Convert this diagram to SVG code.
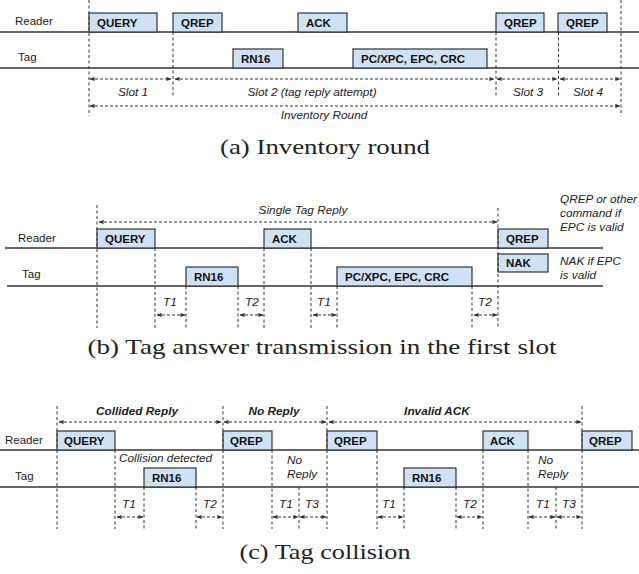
<svg xmlns="http://www.w3.org/2000/svg" width="639" height="574" viewBox="0 0 639 574">
  <defs>
    <marker id="ah" viewBox="0 0 6 6" refX="5.5" refY="3" markerWidth="5" markerHeight="5" orient="auto-start-reverse" markerUnits="userSpaceOnUse">
      <path d="M0,0.5 L6,3 L0,5.5 z" fill="#333"/>
    </marker>
    <style>
      .lane { stroke: #333; stroke-width: 1.3; fill: none; }
      .box { fill: #cfe2f3; stroke: #333; stroke-width: 1.2; }
      .btxt { font-family: "Liberation Sans", Arial, sans-serif; font-size: 11.5px; font-weight: bold; fill: #111; }
      .lbl { font-family: "Liberation Sans", Arial, sans-serif; font-size: 11.5px; fill: #222; }
      .it { font-family: "Liberation Sans", Arial, sans-serif; font-size: 11.8px; font-style: italic; fill: #222; }
      .bit { font-family: "Liberation Sans", Arial, sans-serif; font-size: 11.8px; font-style: italic; font-weight: bold; fill: #222; }
      .vd { stroke: #333; stroke-width: 1; stroke-dasharray: 3 2.5; fill: none; }
      .ar { stroke: #333; stroke-width: 1; stroke-dasharray: 3 2; fill: none; marker-start: url(#ah); marker-end: url(#ah); }
      .cap { font-family: "Liberation Serif", "DejaVu Serif", serif; font-size: 22px; fill: #222; }
    </style>
  </defs>
  <rect width="639" height="574" fill="#fff"/>

  <!-- ===== (a) Inventory round ===== -->
  <g id="panel-a">
    <g id="a-lanes">
      <text class="lbl" x="15" y="25">Reader</text>
      <line class="lane" x1="0" y1="32" x2="639" y2="32"/>
      <text class="lbl" x="18" y="61">Tag</text>
      <line class="lane" x1="0" y1="68" x2="639" y2="68"/>
    </g>
    <g id="a-query"><rect class="box" x="89" y="13" width="68" height="19"/><text class="btxt" x="97" y="27">QUERY</text></g>
    <g id="a-qrep1"><rect class="box" x="173" y="13" width="49" height="19"/><text class="btxt" x="181" y="27">QREP</text></g>
    <g id="a-ack"><rect class="box" x="298" y="13" width="49" height="19"/><text class="btxt" x="306" y="27">ACK</text></g>
    <g id="a-qrep2"><rect class="box" x="496" y="13" width="48" height="19"/><text class="btxt" x="504" y="27">QREP</text></g>
    <g id="a-qrep3"><rect class="box" x="558" y="13" width="49" height="19"/><text class="btxt" x="566" y="27">QREP</text></g>
    <g id="a-rn16"><rect class="box" x="233" y="49" width="50" height="19"/><text class="btxt" x="241" y="63">RN16</text></g>
    <g id="a-epc"><rect class="box" x="353" y="49" width="134" height="19"/><text class="btxt" x="361" y="63">PC/XPC, EPC, CRC</text></g>
    <g id="a-connectors">
      <line class="vd" x1="89" y1="0" x2="89" y2="116"/>
      <line class="vd" x1="173" y1="32" x2="173" y2="96"/>
      <line class="vd" x1="496" y1="32" x2="496" y2="96"/>
      <line class="vd" x1="558.5" y1="32" x2="558.5" y2="96"/>
      <line class="vd" x1="621" y1="0" x2="621" y2="116"/>
      <line class="ar" x1="90" y1="79" x2="171" y2="79"/>
      <line class="ar" x1="175" y1="79" x2="494" y2="79"/>
      <line class="ar" x1="497" y1="79" x2="557" y2="79"/>
      <line class="ar" x1="560" y1="79" x2="620" y2="79"/>
      <line class="ar" x1="90" y1="106" x2="620" y2="106"/>
    </g>
    <g id="a-labels">
      <text class="it" x="133" y="96" text-anchor="middle">Slot 1</text>
      <text class="it" x="312" y="96" text-anchor="middle">Slot 2 (tag reply attempt)</text>
      <text class="it" x="528" y="96" text-anchor="middle">Slot 3</text>
      <text class="it" x="588" y="96" text-anchor="middle">Slot 4</text>
      <text class="it" x="324" y="119" text-anchor="middle">Inventory Round</text>
    </g>
    <text class="cap" x="325" y="154" text-anchor="middle" textLength="210" lengthAdjust="spacingAndGlyphs">(a) Inventory round</text>
  </g>

  <!-- ===== (b) Tag answer transmission in the first slot ===== -->
  <g id="panel-b">
    <g id="b-lanes">
      <text class="lbl" x="18" y="242">Reader</text>
      <line class="lane" x1="5" y1="248" x2="603" y2="248"/>
      <text class="lbl" x="22" y="278">Tag</text>
      <line class="lane" x1="7" y1="286" x2="603" y2="286"/>
    </g>
    <g id="b-query"><rect class="box" x="97" y="229" width="58" height="19"/><text class="btxt" x="105" y="243">QUERY</text></g>
    <g id="b-ack"><rect class="box" x="264" y="229" width="47" height="19"/><text class="btxt" x="272" y="243">ACK</text></g>
    <g id="b-qrep"><rect class="box" x="498" y="229" width="50" height="19"/><text class="btxt" x="506" y="243">QREP</text></g>
    <g id="b-nak"><rect class="box" x="498" y="254" width="50" height="18"/><text class="btxt" x="506" y="267">NAK</text></g>
    <g id="b-rn16"><rect class="box" x="186" y="267" width="52" height="19"/><text class="btxt" x="194" y="281">RN16</text></g>
    <g id="b-epc"><rect class="box" x="337" y="267" width="135" height="19"/><text class="btxt" x="345" y="281">PC/XPC, EPC, CRC</text></g>
    <g id="b-connectors">
      <line class="vd" x1="97" y1="205" x2="97" y2="328"/>
      <line class="vd" x1="155" y1="248" x2="155" y2="328"/>
      <line class="vd" x1="186" y1="286" x2="186" y2="328"/>
      <line class="vd" x1="238" y1="286" x2="238" y2="328"/>
      <line class="vd" x1="264" y1="248" x2="264" y2="328"/>
      <line class="vd" x1="311" y1="248" x2="311" y2="328"/>
      <line class="vd" x1="337" y1="286" x2="337" y2="328"/>
      <line class="vd" x1="472" y1="286" x2="472" y2="328"/>
      <line class="vd" x1="498" y1="208" x2="498" y2="328"/>
      <line class="ar" x1="99" y1="222" x2="497" y2="222"/>
      <line class="ar" x1="157" y1="315" x2="185" y2="315"/>
      <line class="ar" x1="240" y1="315" x2="263" y2="315"/>
      <line class="ar" x1="313" y1="315" x2="336" y2="315"/>
      <line class="ar" x1="474" y1="315" x2="497" y2="315"/>
    </g>
    <g id="b-labels">
      <text class="it" x="303" y="214" text-anchor="middle">Single Tag Reply</text>
      <text class="it" x="170" y="306" text-anchor="middle">T1</text>
      <text class="it" x="252" y="306" text-anchor="middle">T2</text>
      <text class="it" x="324" y="306" text-anchor="middle">T1</text>
      <text class="it" x="485" y="306" text-anchor="middle">T2</text>
      <text class="it" x="560" y="203">QREP or other</text>
      <text class="it" x="560" y="217">command if</text>
      <text class="it" x="560" y="231">EPC is valid</text>
      <text class="it" x="560" y="265">NAK if EPC</text>
      <text class="it" x="560" y="279">is valid</text>
    </g>
    <text class="cap" x="322" y="354" text-anchor="middle" textLength="469" lengthAdjust="spacingAndGlyphs">(b) Tag answer transmission in the first slot</text>
  </g>

  <!-- ===== (c) Tag collision ===== -->
  <g id="panel-c">
    <g id="c-lanes">
      <text class="lbl" x="5" y="444">Reader</text>
      <line class="lane" x1="0" y1="450" x2="639" y2="450"/>
      <text class="lbl" x="15" y="480">Tag</text>
      <line class="lane" x1="0" y1="487" x2="639" y2="487"/>
    </g>
    <g id="c-query"><rect class="box" x="57" y="431" width="58" height="19"/><text class="btxt" x="64" y="445">QUERY</text></g>
    <g id="c-qrep1"><rect class="box" x="223" y="431" width="49" height="19"/><text class="btxt" x="230" y="445">QREP</text></g>
    <g id="c-qrep2"><rect class="box" x="327" y="431" width="50" height="19"/><text class="btxt" x="334" y="445">QREP</text></g>
    <g id="c-ack"><rect class="box" x="483" y="431" width="45" height="19"/><text class="btxt" x="490" y="445">ACK</text></g>
    <g id="c-qrep3"><rect class="box" x="582" y="431" width="50" height="19"/><text class="btxt" x="589" y="445">QREP</text></g>
    <g id="c-rn16a"><rect class="box" x="144" y="468" width="52" height="19"/><text class="btxt" x="152" y="482">RN16</text></g>
    <g id="c-rn16b"><rect class="box" x="404" y="468" width="52" height="19"/><text class="btxt" x="412" y="482">RN16</text></g>
    <g id="c-connectors">
      <line class="vd" x1="57" y1="406" x2="57" y2="529"/>
      <line class="vd" x1="115" y1="450" x2="115" y2="529"/>
      <line class="vd" x1="144" y1="487" x2="144" y2="529"/>
      <line class="vd" x1="196" y1="487" x2="196" y2="529"/>
      <line class="vd" x1="223" y1="406" x2="223" y2="529"/>
      <line class="vd" x1="272" y1="450" x2="272" y2="529"/>
      <line class="vd" x1="299" y1="487" x2="299" y2="529"/>
      <line class="vd" x1="327" y1="406" x2="327" y2="529"/>
      <line class="vd" x1="377" y1="450" x2="377" y2="529"/>
      <line class="vd" x1="404" y1="487" x2="404" y2="529"/>
      <line class="vd" x1="456" y1="487" x2="456" y2="529"/>
      <line class="vd" x1="483" y1="450" x2="483" y2="529"/>
      <line class="vd" x1="528" y1="450" x2="528" y2="529"/>
      <line class="vd" x1="556" y1="487" x2="556" y2="529"/>
      <line class="vd" x1="582" y1="406" x2="582" y2="529"/>
      <line class="ar" x1="59" y1="422" x2="221" y2="422"/>
      <line class="ar" x1="224" y1="422" x2="326" y2="422"/>
      <line class="ar" x1="329" y1="422" x2="581" y2="422"/>
      <line class="ar" x1="117" y1="517" x2="143" y2="517"/>
      <line class="ar" x1="197" y1="517" x2="222" y2="517"/>
      <line class="ar" x1="273" y1="517" x2="298" y2="517"/>
      <line class="ar" x1="300" y1="517" x2="326" y2="517"/>
      <line class="ar" x1="378" y1="517" x2="403" y2="517"/>
      <line class="ar" x1="457" y1="517" x2="482" y2="517"/>
      <line class="ar" x1="529" y1="517" x2="555" y2="517"/>
      <line class="ar" x1="557" y1="517" x2="581" y2="517"/>
    </g>
    <g id="c-labels">
      <text class="bit" x="137" y="415" text-anchor="middle">Collided Reply</text>
      <text class="bit" x="274" y="415" text-anchor="middle">No Reply</text>
      <text class="bit" x="437" y="415" text-anchor="middle">Invalid ACK</text>
      <text class="it" x="119" y="462">Collision detected</text>
      <text class="it" x="287" y="464">No</text>
      <text class="it" x="287" y="478">Reply</text>
      <text class="it" x="538" y="464">No</text>
      <text class="it" x="538" y="478">Reply</text>
      <text class="it" x="129" y="508" text-anchor="middle">T1</text>
      <text class="it" x="210" y="508" text-anchor="middle">T2</text>
      <text class="it" x="286" y="508" text-anchor="middle">T1</text>
      <text class="it" x="312" y="508" text-anchor="middle">T3</text>
      <text class="it" x="389" y="508" text-anchor="middle">T1</text>
      <text class="it" x="470" y="508" text-anchor="middle">T2</text>
      <text class="it" x="543" y="508" text-anchor="middle">T1</text>
      <text class="it" x="569" y="508" text-anchor="middle">T3</text>
    </g>
    <text class="cap" x="325" y="559" text-anchor="middle" textLength="171" lengthAdjust="spacingAndGlyphs">(c) Tag collision</text>
  </g>
</svg>
